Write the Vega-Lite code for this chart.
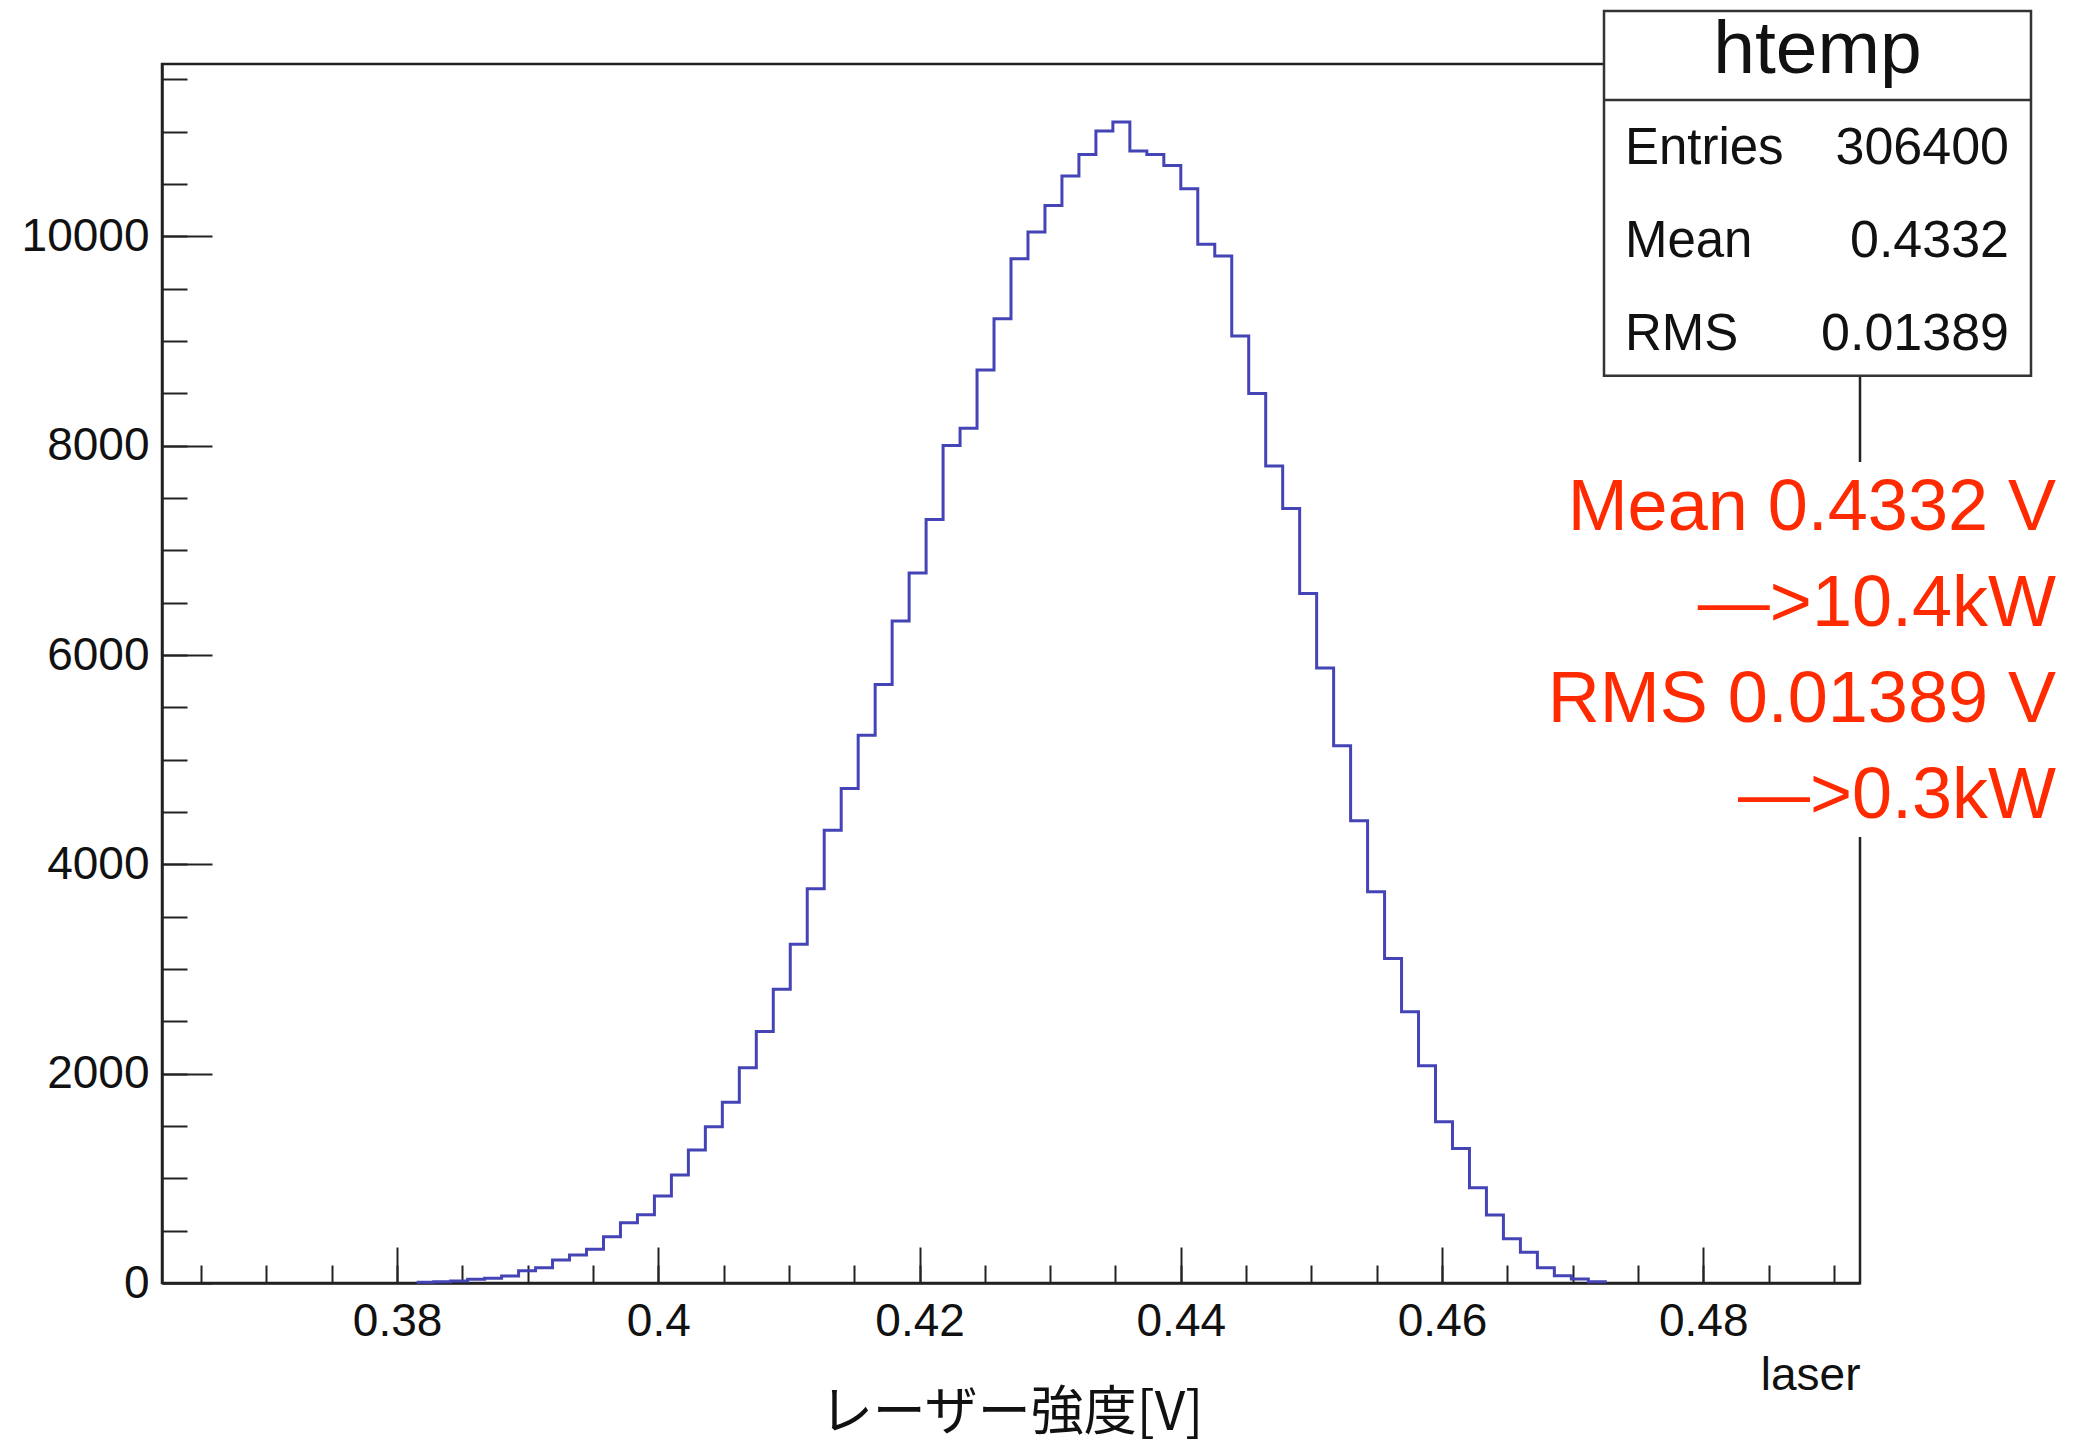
{
  "$schema": "https://vega.github.io/schema/vega-lite/v6.json",
  "width": 1698,
  "height": 1219,
  "autosize": {"type": "none"},
  "padding": {"left": 162, "top": 64, "right": 214, "bottom": 160},
  "background": "white",
  "config": {
    "view": {"stroke": "#222", "strokeWidth": 2.5},
    "axis": {"grid": false, "domainColor": "#222", "domainWidth": 2.5, "tickColor": "#222", "tickWidth": 2, "labelFont": "Liberation Sans", "labelFontSize": 46, "labelColor": "#111", "titleColor": "#111", "titleFontWeight": "normal", "labelOverlap": false, "labelFlush": false}
  },
  "datasets": {
    "htemp": [
      {"laser": 0.3815, "entries": 8},
      {"laser": 0.3828, "entries": 12},
      {"laser": 0.3841, "entries": 18},
      {"laser": 0.3854, "entries": 36},
      {"laser": 0.3867, "entries": 45},
      {"laser": 0.388, "entries": 67},
      {"laser": 0.3893, "entries": 118},
      {"laser": 0.3906, "entries": 146},
      {"laser": 0.3919, "entries": 220},
      {"laser": 0.3932, "entries": 267},
      {"laser": 0.3945, "entries": 322},
      {"laser": 0.3958, "entries": 443},
      {"laser": 0.3971, "entries": 576},
      {"laser": 0.3984, "entries": 652},
      {"laser": 0.3997, "entries": 831},
      {"laser": 0.401, "entries": 1031},
      {"laser": 0.4023, "entries": 1270},
      {"laser": 0.4036, "entries": 1493},
      {"laser": 0.4049, "entries": 1726},
      {"laser": 0.4062, "entries": 2056},
      {"laser": 0.4075, "entries": 2402},
      {"laser": 0.4088, "entries": 2807},
      {"laser": 0.4101, "entries": 3236},
      {"laser": 0.4114, "entries": 3767},
      {"laser": 0.4127, "entries": 4327},
      {"laser": 0.414, "entries": 4725},
      {"laser": 0.4153, "entries": 5234},
      {"laser": 0.4166, "entries": 5718},
      {"laser": 0.4179, "entries": 6326},
      {"laser": 0.4192, "entries": 6784},
      {"laser": 0.4205, "entries": 7294},
      {"laser": 0.4218, "entries": 8003},
      {"laser": 0.4231, "entries": 8167},
      {"laser": 0.4244, "entries": 8723},
      {"laser": 0.4257, "entries": 9214},
      {"laser": 0.427, "entries": 9787},
      {"laser": 0.4283, "entries": 10041},
      {"laser": 0.4296, "entries": 10296},
      {"laser": 0.4309, "entries": 10576},
      {"laser": 0.4322, "entries": 10783},
      {"laser": 0.4335, "entries": 11006},
      {"laser": 0.4348, "entries": 11092},
      {"laser": 0.4361, "entries": 10815},
      {"laser": 0.4374, "entries": 10783},
      {"laser": 0.4387, "entries": 10678},
      {"laser": 0.44, "entries": 10456},
      {"laser": 0.4413, "entries": 9924},
      {"laser": 0.4426, "entries": 9812},
      {"laser": 0.4439, "entries": 9048},
      {"laser": 0.4452, "entries": 8498},
      {"laser": 0.4465, "entries": 7806},
      {"laser": 0.4478, "entries": 7399},
      {"laser": 0.4491, "entries": 6587},
      {"laser": 0.4504, "entries": 5877},
      {"laser": 0.4517, "entries": 5132},
      {"laser": 0.453, "entries": 4416},
      {"laser": 0.4543, "entries": 3738},
      {"laser": 0.4556, "entries": 3101},
      {"laser": 0.4569, "entries": 2592},
      {"laser": 0.4582, "entries": 2076},
      {"laser": 0.4595, "entries": 1541},
      {"laser": 0.4608, "entries": 1286},
      {"laser": 0.4621, "entries": 910},
      {"laser": 0.4634, "entries": 649},
      {"laser": 0.4647, "entries": 423},
      {"laser": 0.466, "entries": 293},
      {"laser": 0.4673, "entries": 146},
      {"laser": 0.4686, "entries": 70},
      {"laser": 0.4699, "entries": 38},
      {"laser": 0.4712, "entries": 12},
      {"laser": 0.4725, "entries": 0}
    ]
  },
  "resolve": {"axis": {"x": "independent", "y": "independent"}},
  "layer": [
    {
      "data": {"name": "htemp"},
      "mark": {"type": "line", "interpolate": "step-after", "color": "#4444b6", "strokeWidth": 3},
      "encoding": {
        "x": {
          "field": "laser", "type": "quantitative",
          "scale": {"domain": [0.362, 0.492], "nice": false, "zero": false},
          "axis": {"orient": "bottom", "values": [0.38, 0.4, 0.42, 0.44, 0.46, 0.48], "format": ".2~f", "ticks": false, "labelPadding": 16, "title": "レーザー強度[V]", "titleFont": "Noto Sans CJK JP", "titleFontSize": 53, "titleBaseline": "alphabetic", "titleY": 146}
        },
        "y": {
          "field": "entries", "type": "quantitative",
          "scale": {"domain": [0, 11647], "nice": false, "zero": true},
          "axis": {"orient": "left", "values": [0, 2000, 4000, 6000, 8000, 10000], "format": "d", "ticks": false, "labelPadding": 13, "title": null}
        }
      }
    },
    {
      "data": {"values": [{}]},
      "mark": {"type": "rect", "fill": "white", "clip": false},
      "encoding": {
        "x": {"datum": 0.4679, "type": "quantitative", "axis": {"orient": "bottom", "values": [0.38, 0.4, 0.42, 0.44, 0.46, 0.48], "labels": false, "domain": false, "tickSize": 36, "offset": -36, "title": null}},
        "x2": {"datum": 0.5084},
        "y": {"datum": 7844, "type": "quantitative", "axis": {"orient": "left", "values": [0, 2000, 4000, 6000, 8000, 10000], "labels": false, "domain": false, "tickSize": 50, "offset": -50, "title": null}},
        "y2": {"datum": 4261}
      }
    },
    {
      "data": {"values": [{}]},
      "mark": {"type": "rect", "fill": "white", "stroke": "#333", "strokeWidth": 2.5, "clip": false},
      "encoding": {
        "x": {"datum": 0.472401, "type": "quantitative", "axis": {"orient": "bottom", "values": [0.365, 0.37, 0.375, 0.38, 0.385, 0.39, 0.395, 0.4, 0.405, 0.41, 0.415, 0.42, 0.425, 0.43, 0.435, 0.44, 0.445, 0.45, 0.455, 0.46, 0.465, 0.47, 0.475, 0.48, 0.485, 0.49], "labels": false, "domain": false, "tickSize": 18, "offset": -18, "title": "laser", "titleFont": "Liberation Sans", "titleFontSize": 46, "titleAnchor": "end", "titleBaseline": "alphabetic", "titleY": 124}},
        "x2": {"datum": 0.505092},
        "y": {"datum": 12153, "type": "quantitative", "axis": {"orient": "left", "values": [500, 1000, 1500, 2000, 2500, 3000, 3500, 4000, 4500, 5000, 5500, 6000, 6500, 7000, 7500, 8000, 8500, 9000, 9500, 10000, 10500, 11000, 11500], "labels": false, "domain": false, "tickSize": 25, "offset": -25, "title": null}},
        "y2": {"datum": 8669}
      }
    },
    {
      "data": {"values": [{}]},
      "mark": {"type": "rule", "color": "#333", "strokeWidth": 2.5, "clip": false},
      "encoding": {
        "x": {"datum": 0.472401, "type": "quantitative", "axis": null},
        "x2": {"datum": 0.505092},
        "y": {"datum": 11303, "type": "quantitative", "axis": null}
      }
    },
    {
      "data": {"values": [{}]},
      "mark": {"type": "text", "text": "htemp", "font": "Liberation Sans", "fontSize": 75, "align": "center", "baseline": "alphabetic", "color": "#111", "clip": false},
      "encoding": {
        "x": {"datum": 0.488746, "type": "quantitative", "axis": null},
        "y": {"datum": 11558, "type": "quantitative", "axis": null}
      }
    },
    {
      "data": {"values": [{}]},
      "mark": {"type": "text", "text": ["Entries", "Mean", "RMS"], "lineHeight": 93, "font": "Liberation Sans", "fontSize": 51, "align": "left", "baseline": "alphabetic", "color": "#111", "clip": false},
      "encoding": {
        "x": {"datum": 0.474, "type": "quantitative", "axis": null},
        "y": {"datum": 10692, "type": "quantitative", "axis": null}
      }
    },
    {
      "data": {"values": [{}]},
      "mark": {"type": "text", "text": ["306400", "0.4332", "0.01389"], "lineHeight": 93, "font": "Liberation Sans", "fontSize": 52, "align": "right", "baseline": "alphabetic", "color": "#111", "clip": false},
      "encoding": {
        "x": {"datum": 0.503408, "type": "quantitative", "axis": null},
        "y": {"datum": 10692, "type": "quantitative", "axis": null}
      }
    },
    {
      "data": {"values": [{}]},
      "mark": {"type": "text", "text": ["Mean 0.4332 V", "—>10.4kW", "RMS 0.01389 V", "—>0.3kW"], "lineHeight": 96, "font": "Liberation Sans", "fontSize": 72, "align": "right", "baseline": "alphabetic", "color": "#ff2a00", "clip": false},
      "encoding": {
        "x": {"datum": 0.507006, "type": "quantitative", "axis": null},
        "y": {"datum": 7195, "type": "quantitative", "axis": null}
      }
    }
  ]
}
